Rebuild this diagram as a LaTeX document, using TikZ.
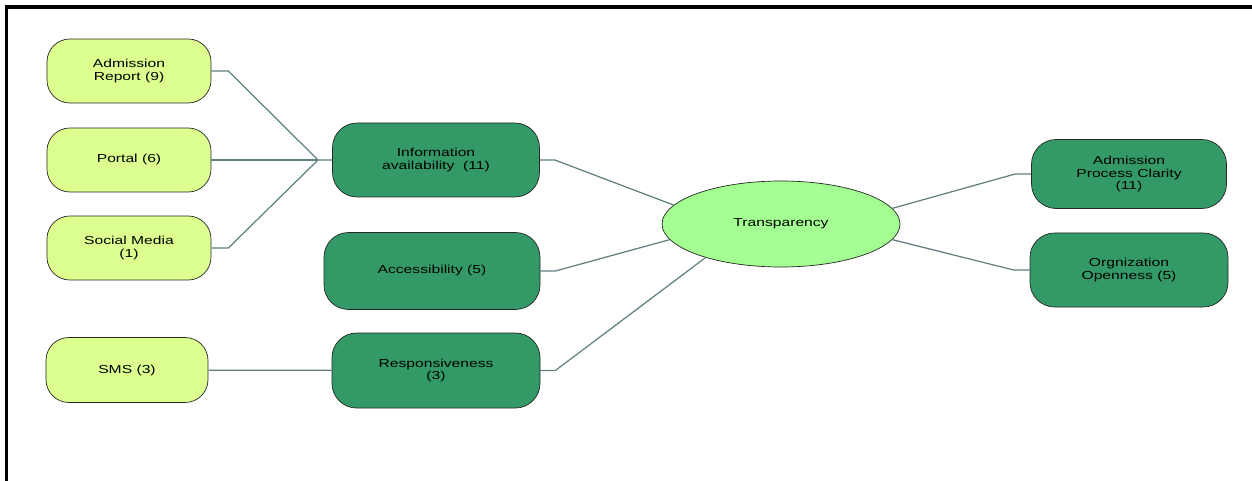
\documentclass[tikz,border=0pt]{standalone}
\usepackage{fontspec}
\setmainfont{Liberation Sans}[FakeStretch=1.35]
\usepackage{tikz}
\usetikzlibrary{shapes,positioning,calc}
\definecolor{leafc}{HTML}{DDFF8F}
\definecolor{dimc}{HTML}{339966}
\definecolor{corec}{HTML}{A3FF91}
\definecolor{linkc}{HTML}{5F7F80}
\tikzset{
leaf/.style = {draw=black!85, fill=leafc, rectangle, rounded corners=13pt, align=center, minimum width=3.28cm, minimum height=1.28cm},
dim/.style  = {draw=black!85, fill=dimc, rectangle, rounded corners=14pt, align=center, minimum width=4.14cm, minimum height=1.48cm},
core/.style = {draw=black!85, fill=corec, ellipse, minimum width=4.76cm, minimum height=1.72cm},
tmp/.style  = {coordinate},
link/.style = {draw=linkc, line width=0.7pt}
}

\begin{document}
\begin{tikzpicture}[font=\fontsize{6.6}{7.3}\selectfont]
  \useasboundingbox (0,0) rectangle (25.04,-9.62);
  \draw [line width=1.8pt] (0.13,-9.62) -- (0.13,-0.14) -- (25.04,-0.14);

  \node [leaf]                                          (adrep)  at (2.58,-1.42) {Admission\\Report (9)};
  \node [leaf, below of=adrep, node distance=1.78cm]    (portal) {Portal (6)};
  \node [leaf, below of=portal, node distance=1.76cm]   (social) {Social Media\\(1)};
  \node [leaf, minimum width=3.24cm, minimum height=1.3cm] (sms) at (2.54,-7.40) {SMS (3)};
  \node [dim]                                           (info)   at (8.72,-3.20) {Information\\availability~~(11)};
  \node [dim, minimum width=4.32cm, minimum height=1.54cm] (access) at (8.64,-5.42) {Accessibility (5)};
  \node [dim, minimum width=4.16cm, minimum height=1.5cm]  (resp)   at (8.72,-7.41) {Responsiveness\\(3)};
  \node [core]                                          (transp) at (15.62,-4.48) {Transparency};
  \node [dim, minimum width=3.9cm, minimum height=1.38cm]  (clarity) at (22.58,-3.48) {Admission\\Process Clarity\\(11)};
  \node [dim, minimum width=3.96cm, minimum height=1.48cm] (open)    at (22.58,-5.40) {Orgnization\\Openness (5)};
  \node [tmp] (join) at (6.36,-3.20) {};

  \draw [link] (adrep.east) -- ++(0.34,0) -- (join) -- (info.west);
  \draw [link] (portal.east) -- (join);
  \draw [link] (social.east) -- ++(0.34,0) -- (join);
  \draw [link] (sms) -- (resp);
  \draw [link] (info.east) -- ++(0.3,0) -- (transp.170);
  \draw [link] (access.east) -- ++(0.3,0) -- (transp.188);
  \draw [link] (resp.east) -- ++(0.3,0) -- (transp.204);
  \draw [link] (transp.8) -- ($(clarity.west)+(-0.32,0)$) -- (clarity.west);
  \draw [link] (transp.352) -- ($(open.west)+(-0.32,0)$) -- (open.west);
\end{tikzpicture}
\end{document}
